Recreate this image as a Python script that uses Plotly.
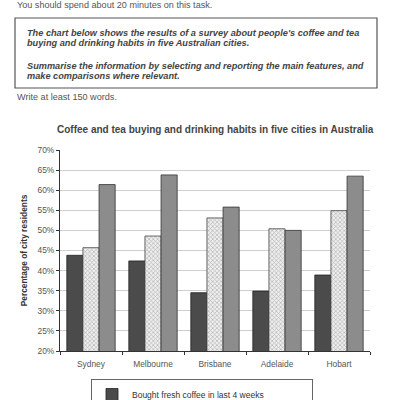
import plotly.graph_objects as go

cities = ["Sydney", "Melbourne", "Brisbane", "Adelaide", "Hobart"]
fresh = [43.8, 42.4, 34.5, 34.9, 38.9]
instant = [45.7, 48.6, 53.1, 50.4, 54.9]
cafe = [61.4, 63.8, 55.8, 50.0, 63.5]
series_names = [
    "Bought fresh coffee in last 4 weeks",
    "Bought instant coffee in last 4 weeks",
    "Went to a café for coffee or tea in last 4 weeks",
]

W, H = 400, 400
ML, MR, MT, MB = 60, 30, 150, 49
PW, PH = W - ML - MR, H - MT - MB


def px(x):
    return (x - ML) / PW


def py(y):
    return (H - MB - y) / PH


FONT = "Liberation Sans, Arial, sans-serif"
fig = go.Figure()
fig.add_trace(go.Bar(x=cities, y=fresh, name=series_names[0],
                     marker=dict(color="#4b4b4b", line=dict(color="#222", width=0.8))))
fig.add_trace(go.Bar(x=cities, y=instant, name=series_names[1],
                     marker=dict(color="#e8e8e8", line=dict(color="#444", width=0.8),
                                 pattern=dict(shape="x", fgcolor="#777", bgcolor="#eeeeee",
                                              size=3, solidity=0.4))))
fig.add_trace(go.Bar(x=cities, y=cafe, name=series_names[2],
                     marker=dict(color="#8c8c8c", line=dict(color="#333", width=0.8))))

fig.update_layout(
    width=W, height=H,
    margin=dict(l=ML, r=MR, t=MT, b=MB, autoexpand=False),
    paper_bgcolor="white", plot_bgcolor="white",
    barmode="group", bargap=0.22, bargroupgap=0,
    font=dict(family=FONT, color="#444", size=8),
    showlegend=True,
    legend=dict(x=px(91), y=py(379), xanchor="left", yanchor="top",
                orientation="v", bordercolor="#666", borderwidth=1,
                font=dict(size=8.5, color="#333"), bgcolor="white",
                itemwidth=30, tracegroupgap=2),
)
fig.update_yaxes(range=[20, 70], dtick=5, ticksuffix="%", showgrid=True,
                 gridcolor="#cfcfcf", gridwidth=1, showline=True, linecolor="#333",
                 linewidth=1, ticks="outside", ticklen=3, tickcolor="#333",
                 tickfont=dict(size=8.4, color="#555"),
                 title=dict(text="<b>Percentage of city residents</b>", font=dict(size=8.4, color="#333"),
                            standoff=8))
fig.update_xaxes(showline=True, linecolor="#333", linewidth=1, ticks="outside",
                 tickson="boundaries", ticklen=3, tickcolor="#333", ticklabelstandoff=5,
                 tickfont=dict(size=8.4, color="#555"))


def note(x, y, text, size, color, bold=False, italic=False, anchor="left"):
    if italic:
        text = "<i>" + text + "</i>"
    if bold:
        text = "<b>" + text + "</b>"
    fig.add_annotation(xref="paper", yref="paper", x=px(x), y=py(y), xanchor=anchor,
                       yanchor="middle", text=text, showarrow=False,
                       font=dict(size=size, color=color))


note(15, 5, "You should spend about 20 minutes on this task.", 9.1, "#555")
fig.add_shape(type="rect", xref="paper", yref="paper", x0=px(15), x1=px(377), y0=py(88), y1=py(18),
              line=dict(color="#555", width=1.2), fillcolor="rgba(0,0,0,0)")
box_lines = [
    ("The chart below shows the results of a survey about people's coffee and tea", 33),
    ("buying and drinking habits in five Australian cities.", 42.5),
    ("Summarise the information by selecting and reporting the main features, and", 66),
    ("make comparisons where relevant.", 75.5),
]
for t, yy in box_lines:
    note(25, yy, t, 9.2, "#444", bold=True, italic=True)
note(15, 97, "Write at least 150 words.", 9.1, "#555")
note(215, 129, "Coffee and tea buying and drinking habits in five cities in Australia", 10,
     "#444", bold=True, anchor="center")

fig.write_html("out.html", config={"displayModeBar": False},
               post_script="document.body.style.margin='0';")
